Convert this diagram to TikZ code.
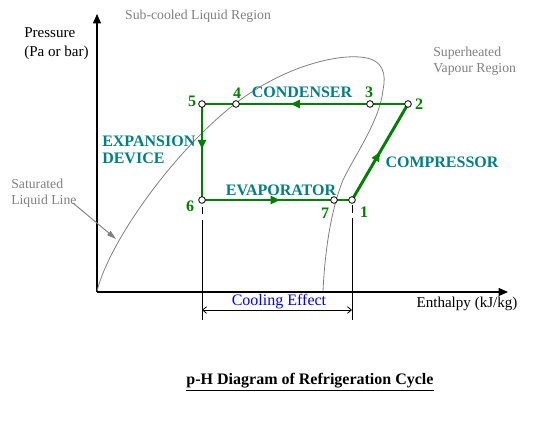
\documentclass[tikz,border=0pt]{standalone}
\usepackage{fontspec}
\setmainfont{Liberation Serif}
\usetikzlibrary{arrows.meta,decorations.markings}
\definecolor{cyc}{RGB}{0,128,0}
\definecolor{lab}{RGB}{0,128,128}
\definecolor{gry}{RGB}{128,128,128}
\tikzset{
  flowline/.style={draw=cyc,line width=2.2pt},
  midarrow/.style={postaction={decorate},decoration={markings,mark=at position #1 with {\arrow[cyc]{Triangle[length=7pt,width=6pt]}}}},
  statept/.style={circle,draw=black,fill=white,line width=0.6pt,inner sep=0pt,minimum size=5pt},
  numlab/.style={text=cyc,font=\fontsize{12}{12}\selectfont\bfseries,inner sep=0pt},
  proclab/.style={text=lab,font=\fontsize{12}{13.5}\selectfont\bfseries,inner sep=0pt},
  graytext/.style={text=gry,font=\fontsize{10.3}{12}\selectfont,inner sep=0pt,align=left},
  blacktext/.style={text=black,font=\fontsize{11.3}{14.5}\selectfont,inner sep=0pt,align=left},
  axisline/.style={draw=black,line width=0.8pt,-{Triangle[length=7pt,width=6pt]}},
  guide/.style={draw=black,line width=0.7pt},
}
\begin{document}
\begin{tikzpicture}[x=0.75pt,y=-0.75pt]
\useasboundingbox (0,0) rectangle (539,428);
% axes
\coordinate (O) at (97,292);
\coordinate (ytop) at (97,14);
\coordinate (xend) at (508,292);
\draw[axisline] (O) -- (ytop);
\draw[axisline] (O) -- (xend);
% saturation dome
\draw[gry,line width=0.6pt] (97,291) .. controls (110,240) and (175,150) .. (236,103)
  .. controls (285,66) and (335,55) .. (360,57)
  .. controls (385,59) and (386,75) .. (383,90)
  .. controls (380,120) and (355,155) .. (343,180)
  .. controls (331,210) and (325,250) .. (323,291);
% state points
\coordinate (p1) at (352,200);
\coordinate (p2) at (408,104);
\coordinate (p3) at (370,104);
\coordinate (p4) at (236,104);
\coordinate (p5) at (202,104);
\coordinate (p6) at (202,200);
\coordinate (p7) at (334,200);
% guide lines
\coordinate (d6a) at (202,207);
\coordinate (d6b) at (202,214);
\coordinate (d6c) at (202,220);
\coordinate (d6d) at (202,320);
\coordinate (d1a) at (352,205);
\coordinate (d1b) at (352,213);
\coordinate (d1c) at (352,218);
\coordinate (d1d) at (352,320);
\draw[guide] (d6a) -- (d6b) (d6c) -- (d6d);
\draw[guide] (d1a) -- (d1b) (d1c) -- (d1d);
\coordinate (ceL) at (202,310);
\coordinate (ceR) at (352,310);
\draw[black,line width=0.6pt,{Straight Barb[length=3pt,width=5pt]}-{Straight Barb[length=3pt,width=5pt]}] (ceL) -- (ceR);
% cycle
\draw[flowline,midarrow=0.57] (p2) -- (p5);
\draw[flowline,midarrow=0.47] (p5) -- (p6);
\draw[flowline,midarrow=0.52] (p6) -- (p1);
\draw[flowline,midarrow=0.5] (p1) -- (p2);
\foreach \i in {1,...,7} {\node[statept] (c\i) at (p\i) {};}
% numbers
\node[numlab] (n1) at (364,212) {1};
\node[numlab] (n2) at (419,104) {2};
\node[numlab] (n3) at (369,92) {3};
\node[numlab] (n4) at (237,93) {4};
\node[numlab] (n5) at (192,101) {5};
\node[numlab] (n6) at (190,206) {6};
\node[numlab] (n7) at (325,213) {7};
% process labels
\node[proclab] (cond) at (302,92) {CONDENSER};
\node[proclab,anchor=west,align=left] (exp) at (102,150) {EXPANSION\\[-1pt]DEVICE};
\node[proclab] (evap) at (281,190) {EVAPORATOR};
\node[proclab] (comp) at (442,162) {COMPRESSOR};
% texts
\node[graytext] (sub) at (198,16) {Sub-cooled Liquid Region};
\node[graytext,anchor=west] (sup) at (433,61) {Superheated\\Vapour Region};
\node[graytext,anchor=west] (sat) at (11,193) {Saturated\\Liquid Line};
\coordinate (satA) at (73,203);
\coordinate (satB) at (116,239);
\draw[gry,line width=0.7pt,-{Triangle[length=7pt,width=4pt]}] (satA) -- (satB);
\node[blacktext,anchor=west] (pres) at (24,44) {Pressure\\(Pa or bar)};
\node[blacktext] (enth) at (467,304) {Enthalpy (kJ/kg)};
\node[text=blue,font=\fontsize{12}{12}\selectfont,inner sep=0pt] (cool) at (279,302) {Cooling Effect};
\node[font=\fontsize{12}{13}\selectfont\bfseries,inner sep=0pt] (title) at (310,382) {\underline{p-H Diagram of Refrigeration Cycle}};
\end{tikzpicture}
\end{document}
